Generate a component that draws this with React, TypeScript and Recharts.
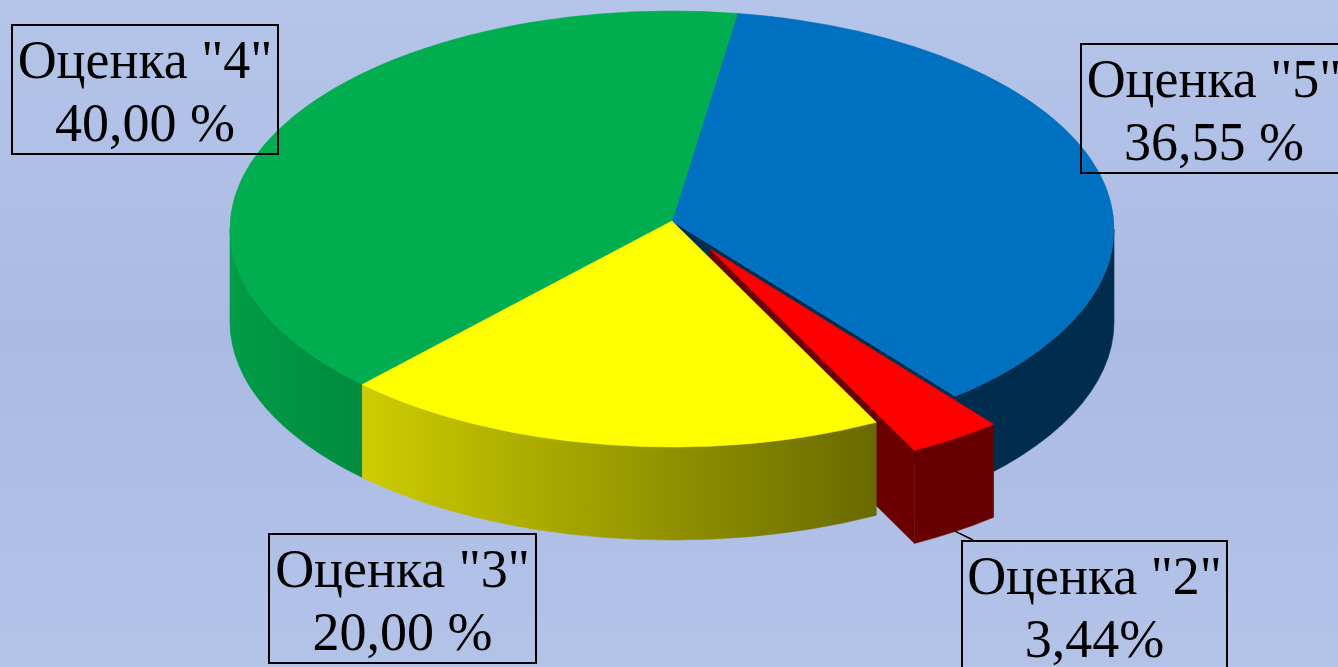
import React from 'react';
import { PieChart, Pie } from 'recharts';

// grades and their shares (drawn counterclockwise, starting after the red gap)
const grades = ['Оценка "5"', 'Оценка "4"', 'Оценка "3"', 'Оценка "2"'];
const shares = [36.55, 40.0, 20.0, 3.44];
const shareLabels = ['36,55 %', '40,00 %', '20,00 %', '3,44%'];
const topColors = ['#0070c0', '#00ad4f', '#ffff00', '#ff0000'];

const data = grades.map((name, i) => ({ name, value: shares[i] }));

const W = 1338;
const H = 667;
const TILT = 218 / 442; // vertical squash of the top face
const DEPTH = 93;
const APEX_LIFT = 8;
const EXPLODE = 0.155;
const EXPLODED = 3;

// blue/green boundary sits near the back of the pie
const total = shares.reduce((a, b) => a + b, 0);
const BOUNDARY = 81.5;
const START = BOUNDARY - (shares[0] / total) * 360;
const END = START + 360;

// label boxes
const boxes = [
  { left: 1080, top: 43, width: 268 },
  { left: 11, top: 24, width: 268 },
  { left: 268, top: 533, width: 269 },
  { left: 961, top: 540, width: 267 },
];

type Pt = [number, number];
const rad = (d: number) => (d * Math.PI) / 180;

const shade = (hex: string, f: number) => {
  const n = parseInt(hex.slice(1), 16);
  const r = Math.round(((n >> 16) & 255) * f);
  const g = Math.round(((n >> 8) & 255) * f);
  const b = Math.round((n & 255) * f);
  return `rgb(${r},${g},${b})`;
};

const geometry = (p: any) => {
  const { cx, cy, outerRadius, index } = p;
  const s = Math.min(p.startAngle, p.endAngle);
  const e = Math.max(p.startAngle, p.endAngle);
  const rx = outerRadius;
  const ry = outerRadius * TILT;
  let ox = 0;
  let oy = 0;
  if (index === EXPLODED) {
    const m = rad((s + e) / 2);
    ox = EXPLODE * rx * Math.cos(m);
    oy = -EXPLODE * ry * Math.sin(m);
  }
  const at = (deg: number, dy = 0): Pt => [
    cx + ox + rx * Math.cos(rad(deg)),
    cy + oy + dy - ry * Math.sin(rad(deg)),
  ];
  const apex = (dy = 0): Pt => [cx + ox, cy + oy - APEX_LIFT + dy];
  return { cx, rx, ry, s, e, at, apex };
};

const pts = (list: Pt[]) => list.map((q) => `${q[0]},${q[1]}`).join(' ');

const frontParts = (s: number, e: number) => {
  const parts: [number, number][] = [];
  for (const [a, b] of [[-180, 0], [180, 360], [540, 720]]) {
    const lo = Math.max(s, a);
    const hi = Math.min(e, b);
    if (hi > lo) parts.push([lo, hi]);
  }
  return parts;
};

// layer 1: cut faces that show in the gap left by the exploded slice
const renderFaces = (p: any) => {
  const g = geometry(p);
  const i = p.index;
  const n = data.length;
  const faces: number[] = [];
  const ok = (normal: number, nb: number) =>
    Math.sin(rad(normal)) < 0 && (i === EXPLODED || nb === EXPLODED);
  if (ok(g.s - 90, (i - 1 + n) % n)) faces.push(g.s);
  if (ok(g.e + 90, (i + 1) % n)) faces.push(g.e);
  return (
    <g>
      {faces.map((a) => (
        <polygon
          key={a}
          points={pts([g.apex(), g.at(a), g.at(a, DEPTH), g.apex(DEPTH)])}
          fill={shade(topColors[i], 0.42)}
        />
      ))}
    </g>
  );
};

// layer 2: outer walls with left-to-right shading
const renderWalls = (p: any) => {
  const g = geometry(p);
  const i = p.index;
  const c = topColors[i];
  const id = `wall-${i}`;
  return (
    <g>
      <defs>
        <linearGradient id={id} gradientUnits="userSpaceOnUse" x1={g.cx - g.rx} x2={g.cx + g.rx} y1={0} y2={0}>
          <stop offset="0" stopColor={shade(c, 0.9)} />
          <stop offset="0.75" stopColor={shade(c, 0.4)} />
          <stop offset="1" stopColor={shade(c, 0.4)} />
        </linearGradient>
      </defs>
      {frontParts(g.s, g.e).map(([a, b]) => {
        const p1 = g.at(a);
        const p2 = g.at(b);
        const p3 = g.at(b, DEPTH);
        const p4 = g.at(a, DEPTH);
        const d = `M${p1[0]},${p1[1]} A${g.rx},${g.ry} 0 0 0 ${p2[0]},${p2[1]} L${p3[0]},${p3[1]} A${g.rx},${g.ry} 0 0 1 ${p4[0]},${p4[1]} Z`;
        return <path key={a} d={d} fill={`url(#${id})`} stroke={`url(#${id})`} strokeWidth={0.6} />;
      })}
    </g>
  );
};

// layer 3: top faces (+ leader line of the exploded slice)
const renderTops = (p: any) => {
  const g = geometry(p);
  const i = p.index;
  const a = g.apex();
  const p1 = g.at(g.s);
  const p2 = g.at(g.e);
  const large = g.e - g.s > 180 ? 1 : 0;
  const d = `M${a[0]},${a[1]} L${p1[0]},${p1[1]} A${g.rx},${g.ry} 0 ${large} 0 ${p2[0]},${p2[1]} Z`;
  let leader = null;
  if (i === EXPLODED) {
    const from = g.at((g.s + g.e) / 2, DEPTH);
    leader = <line x1={from[0]} y1={from[1]} x2={boxes[i].left + 12} y2={boxes[i].top} stroke="#000" strokeWidth={1.5} />;
  }
  return (
    <g>
      <path d={d} fill={topColors[i]} stroke={topColors[i]} strokeWidth={0.6} />
      {leader}
    </g>
  );
};

const pieProps = {
  data,
  dataKey: 'value',
  nameKey: 'name',
  cx: 672,
  cy: 229,
  outerRadius: 442,
  startAngle: START,
  endAngle: END,
  fill: 'transparent',
  stroke: 'none',
  labelLine: false,
  isAnimationActive: false,
};

export default function App() {
  return (
    <div
      style={{
        position: 'absolute',
        left: 0,
        top: 0,
        width: W,
        height: H,
        overflow: 'hidden',
        background: 'linear-gradient(180deg, #b5c5e9 0%, #aabae3 50%, #b3c3e8 100%)',
      }}
    >
      <PieChart width={W} height={H} margin={{ top: 0, right: 0, bottom: 0, left: 0 }}>
        <Pie {...pieProps} label={renderFaces} />
        <Pie {...pieProps} label={renderWalls} />
        <Pie {...pieProps} label={renderTops} />
      </PieChart>
      {grades.map((name, i) => (
        <div
          key={name}
          style={{
            position: 'absolute',
            left: boxes[i].left,
            top: boxes[i].top,
            width: boxes[i].width,
            height: 131,
            boxSizing: 'border-box',
            border: '2px solid #000',
            paddingTop: 3,
            textAlign: 'center',
            whiteSpace: 'nowrap',
            fontFamily: '"Liberation Serif", "Times New Roman", serif',
            fontSize: 54,
            lineHeight: '63px',
            color: '#000',
          }}
        >
          <div>{name}</div>
          <div>{shareLabels[i]}</div>
        </div>
      ))}
    </div>
  );
}
